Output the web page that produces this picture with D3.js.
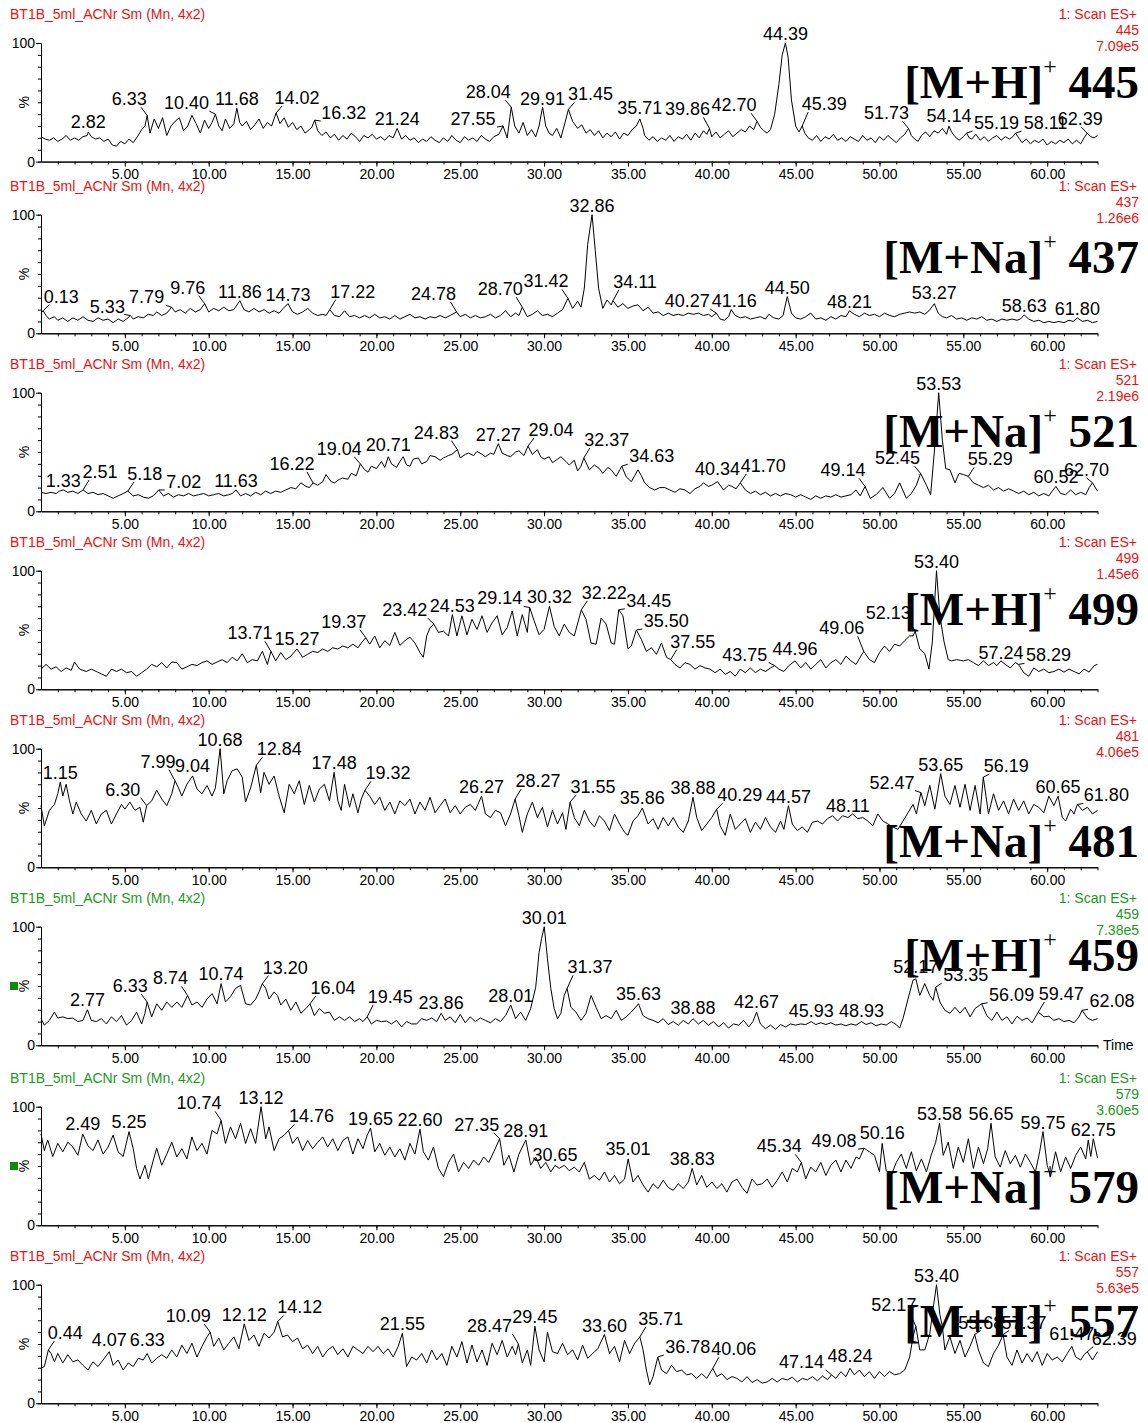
<!DOCTYPE html>
<html><head><meta charset="utf-8">
<script src="https://cdn.jsdelivr.net/npm/d3@7"></script>
<style>body{margin:0;background:#fff}svg{display:block}</style>
</head><body>
<svg id="c" width="1148" height="1423"></svg>
<script>
// ---------------- DATA ----------------
const sampleTitle = "BT1B_5ml_ACNr Sm (Mn, 4x2)";
const scanMode = "1: Scan ES+";
const massChannels = ["445","437","521","499","481","459","579","557"];
const maxIntensities = ["7.09e5","1.26e6","2.19e6","1.45e6","4.06e5","7.38e5","3.60e5","5.63e5"];
const ionTypes = ["M+H","M+Na","M+Na","M+H","M+Na","M+H","M+Na","M+H"];
const xTickLabels = [5,10,15,20,25,30,35,40,45,50,55,60];
const timeDomain = [0,63];

const trace445 = [[0,21],[0.25,19],[0.5,18],[0.75,20],[1,17],[1.25,19],[1.5,22],[1.75,18],[2,20],[2.25,18],[2.5,21],[2.75,22],[2.82,25],[3,21],[3.25,19],[3.5,20],[3.75,17],[4,19],[4.25,14],[4.5,13],[4.75,17],[5,15],[5.25,19],[5.5,16],[5.75,21],[6,27],[6.2,30],[6.33,39],[6.5,24],[6.75,36],[7,28],[7.25,37],[7.5,22],[7.75,30],[8,34],[8.25,37],[8.5,26],[8.75,30],[9,39],[9.25,32],[9.5,24],[9.75,35],[10,28],[10.2,33],[10.4,40],[10.6,30],[10.8,26],[11,36],[11.25,28],[11.5,32],[11.68,45],[11.85,33],[12,30],[12.25,34],[12.5,27],[12.75,31],[13,36],[13.25,28],[13.5,33],[13.75,30],[14.02,41],[14.25,32],[14.5,37],[14.75,29],[15,33],[15.25,27],[15.5,30],[15.75,24],[16,27],[16.15,29],[16.32,35],[16.5,26],[16.75,22],[17,25],[17.25,20],[17.5,23],[17.75,18],[18,22],[18.25,19],[18.5,24],[18.75,21],[19,17],[19.25,22],[19.5,20],[19.75,23],[20,19],[20.25,21],[20.5,18],[20.75,22],[21,20],[21.24,28],[21.5,19],[21.75,22],[22,18],[22.25,20],[22.5,16],[22.75,19],[23,17],[23.25,21],[23.5,18],[23.75,16],[24,20],[24.25,17],[24.5,22],[24.75,18],[25,16],[25.25,21],[25.5,18],[25.75,20],[26,17],[26.25,22],[26.5,19],[26.75,17],[27,21],[27.3,23],[27.55,30],[27.8,20],[28.04,46],[28.25,30],[28.5,24],[28.75,33],[29,22],[29.25,27],[29.5,21],[29.7,30],[29.91,46],[30.1,30],[30.3,24],[30.5,22],[30.75,28],[31,20],[31.25,33],[31.45,44],[31.7,34],[32,28],[32.25,31],[32.5,24],[32.75,27],[33,22],[33.25,26],[33.5,20],[33.75,24],[34,21],[34.25,25],[34.5,19],[34.75,24],[35,22],[35.25,27],[35.5,30],[35.71,36],[35.9,28],[36,22],[36.25,18],[36.5,21],[36.75,17],[37,20],[37.25,18],[37.5,22],[37.75,17],[38,21],[38.25,19],[38.5,23],[38.75,18],[39,24],[39.25,20],[39.5,26],[39.7,23],[39.86,28],[40,21],[40.25,25],[40.5,20],[40.75,23],[41,26],[41.25,21],[41.5,24],[41.75,27],[42,25],[42.25,30],[42.5,27],[42.7,34],[42.9,29],[43.1,26],[43.3,24],[43.5,27],[43.75,40],[44,65],[44.2,90],[44.39,100],[44.55,88],[44.75,52],[45,30],[45.2,25],[45.39,30],[45.55,24],[45.75,20],[46,18],[46.25,22],[46.5,17],[46.75,21],[47,19],[47.25,23],[47.5,18],[47.75,20],[48,17],[48.25,21],[48.5,19],[48.75,17],[49,22],[49.25,18],[49.5,20],[49.75,16],[50,21],[50.25,18],[50.5,22],[50.75,19],[51,16],[51.25,20],[51.5,23],[51.73,28],[51.9,22],[52.1,19],[52.3,17],[52.5,22],[52.75,25],[53,21],[53.25,26],[53.5,24],[53.75,28],[54,23],[54.14,30],[54.3,25],[54.5,21],[54.75,18],[55,21],[55.19,24],[55.35,20],[55.5,19],[55.75,23],[56,18],[56.25,21],[56.5,17],[56.75,20],[57,22],[57.25,18],[57.5,21],[57.75,19],[57.95,21],[58.11,24],[58.3,20],[58.5,16],[58.75,19],[59,15],[59.25,18],[59.5,16],[59.75,19],[60,14],[60.25,17],[60.5,15],[60.75,18],[61,16],[61.25,19],[61.5,15],[61.75,18],[62,15],[62.2,20],[62.39,24],[62.6,21],[62.8,20],[63,22]];
const peaks445 = [2.82,6.33,10.40,11.68,14.02,16.32,21.24,27.55,28.04,29.91,31.45,35.71,39.86,42.70,44.39,45.39,51.73,54.14,55.19,58.11,62.39];

const trace437 = [[0,17],[0.13,19],[0.3,15],[0.5,12],[0.8,14],[1,11],[1.3,13],[1.6,10],[1.9,13],[2.2,11],[2.5,14],[2.8,11],[3.1,10],[3.4,13],[3.7,11],[4,12],[4.3,9],[4.6,12],[4.9,10],[5.1,12],[5.33,15],[5.5,12],[5.8,14],[6.1,13],[6.4,16],[6.7,15],[6.9,18],[7.2,15],[7.5,17],[7.79,22],[8,18],[8.3,20],[8.6,17],[8.9,21],[9.2,18],[9.5,20],[9.76,25],[10,18],[10.3,21],[10.6,19],[10.9,22],[11.2,19],[11.5,20],[11.86,27.5],[12.1,20],[12.4,18],[12.7,21],[13,18],[13.3,20],[13.6,17],[13.9,19],[14.2,17],[14.45,21],[14.73,25],[15,18],[15.3,16],[15.6,18],[15.9,21],[16.2,17],[16.5,15],[16.8,16],[17,15],[17.22,20],[17.5,15],[17.8,14],[18.1,19],[18.4,14],[18.7,15],[19,13],[19.3,15],[19.6,13],[19.9,16],[20.2,13],[20.5,14],[20.8,12],[21.1,15],[21.4,12],[21.7,14],[22,16],[22.3,13],[22.6,14],[22.9,12],[23.2,14],[23.5,13],[23.8,15],[24.1,13],[24.4,15],[24.78,18],[25,14],[25.3,16],[25.6,13],[25.9,15],[26.2,13],[26.5,14],[26.8,16],[27.1,13],[27.4,15],[27.7,19],[28,14],[28.3,17],[28.5,15],[28.7,22],[29,14],[29.3,16],[29.6,19],[29.9,15],[30.2,16],[30.5,14],[30.8,17],[31.1,20],[31.42,29.5],[31.7,21],[32,27],[32.2,22],[32.4,38],[32.6,75],[32.86,100],[33.05,70],[33.25,38],[33.5,21],[33.75,28],[34,24],[34.11,27.5],[34.4,22],[34.7,25],[35,21],[35.3,23],[35.6,24],[35.9,19],[36.2,22],[36.5,17],[36.8,18],[37.1,15],[37.4,17],[37.7,15],[38,16],[38.3,15],[38.6,17],[38.9,16],[39.2,17],[39.5,15],[39.8,16],[40,14],[40.27,17],[40.5,12],[40.75,11],[41,14],[41.16,20],[41.4,15],[41.7,13],[42,14],[42.3,12],[42.6,13],[42.9,14],[43.2,12],[43.4,16],[43.7,13],[44,12],[44.25,15],[44.5,31],[44.75,17],[45,13],[45.3,12],[45.6,14],[45.9,17],[46.2,12],[46.5,13],[46.8,11],[47.1,14],[47.4,12],[47.7,15],[48,14],[48.21,19],[48.5,16],[48.8,14],[49.1,17],[49.4,15],[49.7,16],[50,14],[50.3,17],[50.6,15],[50.9,14],[51.2,16],[51.5,17],[51.8,18],[52.1,17],[52.4,18],[52.7,16],[52.95,19],[53.27,25],[53.5,17],[53.75,14],[54,13],[54.3,15],[54.6,12],[54.9,13],[55.2,11],[55.5,13],[55.8,12],[56.1,14],[56.4,11],[56.7,12],[57,10],[57.3,12],[57.6,11],[57.9,12],[58.2,11],[58.4,12],[58.63,15.5],[58.9,12],[59.2,10],[59.5,11],[59.8,9],[60.1,10],[60.4,9],[60.7,10],[61,9],[61.3,11],[61.55,10],[61.8,13],[62.1,10],[62.4,11],[62.7,9],[63,10]];
const peaks437 = [0.13,5.33,7.79,9.76,11.86,14.73,17.22,24.78,28.70,31.42,32.86,34.11,40.27,41.16,44.50,48.21,53.27,58.63,61.80];

const trace521 = [[0,16],[0.3,15],[0.6,16],[0.9,15],[1.1,17],[1.33,18],[1.6,16],[1.9,17],[2.2,15],[2.51,18],[2.8,15],[3.1,16],[3.4,14],[3.7,15],[4,13],[4.3,11],[4.6,13],[4.9,15],[5.18,17],[5.5,13],[5.8,14],[6.1,12],[6.4,11],[6.7,13],[7.02,18],[7.3,13],[7.6,15],[7.9,12],[8.2,14],[8.5,13],[8.8,15],[9.1,13],[9.4,14],[9.7,15],[10,13],[10.3,14],[10.6,15],[10.9,13],[11.2,14],[11.4,15],[11.63,18],[11.9,13],[12.2,15],[12.5,13],[12.8,16],[13.1,14],[13.4,17],[13.7,15],[14,17],[14.3,16],[14.6,18],[14.9,20],[15.2,19],[15.5,24],[15.8,21],[16,20],[16.22,24],[16.5,22],[16.8,25],[17,31],[17.3,25],[17.5,24],[17.8,27],[18,28],[18.3,27],[18.5,32],[18.8,30],[19.04,40],[19.3,35],[19.5,33],[19.7,38],[20,36],[20.3,42],[20.5,37],[20.71,46],[20.9,40],[21.2,37],[21.4,42],[21.6,46],[21.8,39],[22,38],[22.2,44],[22.5,45],[22.7,40],[23,42],[23.2,47],[23.5,46],[23.8,43],[24,45],[24.3,47],[24.5,48],[24.83,52],[25,45],[25.3,48],[25.5,49],[25.8,47],[26,50.5],[26.3,48],[26.5,46],[26.8,49],[27,48],[27.27,57],[27.5,49],[27.8,47],[28,46],[28.3,50],[28.5,51],[28.8,47],[29.04,55],[29.3,48],[29.6,52],[29.8,46],[30,44],[30.3,46],[30.5,41],[30.8,44],[31,46],[31.3,42],[31.5,39],[31.8,43],[32,34],[32.2,38],[32.37,45],[32.7,35],[33,39],[33.3,36],[33.5,32],[33.8,37],[34,35],[34.3,29.5],[34.63,38],[34.9,29],[35.2,25],[35.4,30],[35.6,35],[35.8,30],[36,24],[36.3,20],[36.6,18],[36.9,20],[37.2,20],[37.5,18],[37.8,16],[38.1,19],[38.4,18],[38.7,15],[39,19],[39.3,21],[39.5,24],[39.8,21],[40,22],[40.34,25],[40.7,18],[41,22],[41.2,21],[41.45,19],[41.7,24],[42,18],[42.3,15],[42.6,17],[42.9,14],[43.2,16],[43.5,13],[43.8,15],[44.1,13],[44.4,15],[44.7,14],[45,12],[45.3,14],[45.6,12],[45.9,10],[46.2,13],[46.5,11],[46.8,13],[47.1,12],[47.4,14],[47.7,12],[48,13],[48.3,14],[48.6,18],[48.85,13],[49.14,21],[49.45,11],[49.8,14],[50.2,20],[50.6,11],[50.9,15],[51.2,24],[51.6,11],[51.9,15],[52.2,22],[52.45,32],[52.8,22],[53.05,14],[53.3,55],[53.53,100],[53.75,60],[53.95,36],[54.2,35],[54.5,24],[54.75,32],[55,31],[55.29,29.5],[55.6,24],[55.9,22],[56.2,20],[56.5,22],[56.8,18],[57.1,20],[57.4,17],[57.7,19],[58,17],[58.3,15],[58.6,17],[58.9,14],[59.2,16],[59.5,13],[59.8,15],[60.1,13],[60.3,17],[60.52,21],[60.8,15],[61.1,14],[61.4,18],[61.7,14],[62,16],[62.3,14],[62.5,20],[62.7,24],[63,17]];
const peaks521 = [1.33,2.51,5.18,7.02,11.63,16.22,19.04,20.71,24.83,27.27,29.04,32.37,34.63,40.34,41.70,49.14,52.45,53.53,55.29,60.52,62.70];

const trace499 = [[0,17],[0.3,21],[0.6,17],[0.9,19],[1.2,15],[1.5,18],[1.8,16],[2,23],[2.3,17],[2.7,15],[3,17],[3.3,15],[3.6,13],[3.9,11],[4.2,17],[4.5,15],[4.8,17],[5.1,14],[5.4,15],[5.7,11],[6,14],[6.3,17],[6.6,21],[6.9,19],[7.2,22.5],[7.5,18],[7.8,23],[8.1,22.5],[8.4,17],[8.7,19],[9,21],[9.3,20],[9.6,22.5],[9.9,24],[10.2,21],[10.5,23],[10.8,25],[11.1,22.5],[11.4,27],[11.7,24],[12,30],[12.3,22.5],[12.6,25],[12.9,24],[13.2,32],[13.5,21],[13.71,32],[14,24],[14.3,31],[14.6,25],[14.9,28],[15.27,34],[15.6,27],[15.9,29.5],[16.2,32],[16.5,31],[16.8,34],[17.1,32],[17.4,35],[17.7,34],[18,36.5],[18.3,35],[18.6,38],[18.9,35],[19.15,40],[19.37,43.5],[19.6,38],[19.9,45],[20.2,35],[20.5,41],[20.8,37],[21.1,48],[21.4,37],[21.7,41],[22,44],[22.3,39],[22.6,31],[22.8,27],[23,45],[23.2,52],[23.42,55],[23.7,48],[24,49],[24.3,45],[24.53,63],[24.8,45],[25.1,62],[25.4,46],[25.7,59],[26,50.5],[26.3,62],[26.6,48],[26.9,56],[27.2,62],[27.5,46],[27.8,52],[28.1,66],[28.4,45],[28.7,63],[29,48],[29.14,69],[29.4,58],[29.7,46],[30,50.5],[30.32,70],[30.6,53],[30.9,45],[31.2,55],[31.5,48],[31.8,45],[32.22,67],[32.5,59],[32.8,39],[33.1,38],[33.4,60],[33.7,55],[34,39],[34.2,38],[34.45,67],[34.7,62],[35,34],[35.2,36.5],[35.5,50],[35.8,42],[36.1,32],[36.4,35],[36.7,29.5],[37,39],[37.3,27],[37.55,25],[37.8,21],[38.1,18],[38.4,22.5],[38.7,21],[39,17],[39.3,20],[39.6,18],[39.9,17],[40.2,14],[40.5,17],[40.8,12.6],[41.1,15],[41.4,11],[41.7,17],[42,14],[42.3,18],[42.6,14],[42.9,17],[43.2,15],[43.5,18],[43.75,20],[44,17],[44.3,15],[44.6,20],[44.96,24],[45.3,18],[45.6,22.5],[45.9,17],[46.2,21],[46.5,25],[46.8,18],[47.1,22.5],[47.4,25],[47.7,21],[48,28],[48.3,24],[48.6,21],[49.06,32],[49.4,25],[49.7,22.5],[50,31],[50.3,36.5],[50.6,32],[50.9,38],[51.2,36.5],[51.5,41],[51.8,45],[52,45],[52.13,49],[52.4,34],[52.7,30],[52.95,17],[53.15,40],[53.4,100],[53.6,62],[53.85,40],[54.1,25],[54.3,24],[54.6,25],[55,24],[55.3,25],[55.6,22.5],[55.9,20],[56.2,24],[56.5,20],[56.8,22.5],[57,20],[57.24,24],[57.5,21],[57.8,18],[58.1,22.5],[58.29,21],[58.6,14],[58.9,11],[59.2,18],[59.5,15],[59.8,17],[60.1,14],[60.4,15],[60.7,17],[61,14.5],[61.3,17],[61.6,15],[61.9,13],[62.2,17],[62.5,14.5],[62.8,20],[63,21]];
const peaks499 = [13.71,15.27,19.37,23.42,24.53,29.14,30.32,32.22,34.45,35.50,37.55,43.75,44.96,49.06,52.13,53.40,57.24,58.29];

const trace481 = [[0,52],[0.2,35],[0.5,48],[0.8,53],[1,62],[1.15,72],[1.3,60],[1.5,70],[1.7,56],[1.9,45],[2.1,55],[2.4,45],[2.7,39],[3,48],[3.3,36.5],[3.6,45],[3.9,48],[4.2,36.5],[4.5,45],[4.8,53],[5,49],[5.3,55],[5.6,48],[5.9,50.6],[6.1,38],[6.3,52],[6.6,56],[6.9,65],[7.2,57.6],[7.5,52],[7.8,62],[7.99,73],[8.2,67],[8.4,60],[8.7,70],[9.04,77],[9.3,66],[9.6,62],[9.9,69],[10.2,60],[10.4,67],[10.68,100],[10.9,62],[11.1,73],[11.4,81.5],[11.7,83],[12,76],[12.2,55],[12.5,67],[12.84,86],[13.1,63],[13.3,80],[13.6,70],[13.9,77],[14.2,60],[14.5,46],[14.8,70],[15.1,62],[15.4,73],[15.7,53],[16,69],[16.3,55],[16.6,66],[16.9,70],[17.2,56],[17.48,80],[17.7,56],[17.9,48],[18.1,70],[18.4,50.6],[18.6,62],[18.9,46],[19.1,57.6],[19.32,65],[19.6,60],[19.9,53],[20.2,59],[20.5,48],[20.8,55],[21.1,45],[21.4,56],[21.7,52],[22,57.6],[22.3,45],[22.6,55],[22.9,48],[23.2,59],[23.5,46],[23.8,52],[24.1,57.6],[24.4,46],[24.7,52],[25,45],[25.3,50.6],[25.6,53],[25.9,48],[26.27,60],[26.5,45],[26.8,42],[27.1,48],[27.4,46],[27.7,35],[28,45],[28.27,57.5],[28.5,43.5],[28.7,29.5],[29,45],[29.3,55],[29.6,42],[29.9,50.6],[30.2,34],[30.5,48],[30.8,36.5],[31.1,46],[31.3,32],[31.55,55],[31.8,42],[32.1,35],[32.4,48],[32.7,39],[33,34],[33.3,43.5],[33.6,39],[33.9,31],[34.2,45],[34.5,36.5],[34.8,29.5],[35,27],[35.3,39],[35.6,43.5],[35.86,50],[36.2,36.5],[36.5,41],[36.8,32],[37.1,42],[37.4,35],[37.7,42],[38,34],[38.3,29.5],[38.6,39],[38.88,59],[39.1,42],[39.4,31],[39.7,36.5],[40,42],[40.29,49],[40.5,35],[40.8,27],[41.1,45],[41.4,32],[41.7,36.5],[42,41],[42.3,29.5],[42.6,38],[42.9,32],[43.2,42],[43.5,34],[43.8,29.5],[44.1,39],[44.3,32],[44.57,52],[44.8,36.5],[45.1,31],[45.4,34],[45.7,29.5],[46,38],[46.3,39],[46.6,36.5],[46.9,41],[47.2,43.5],[47.5,39],[47.8,43.5],[48.11,42],[48.4,45],[48.7,41],[49,42],[49.3,39],[49.6,35],[49.9,45],[50.2,39],[50.5,36.5],[50.8,34],[51.1,32],[51.4,39],[51.7,46],[52,53],[52.2,45],[52.47,63],[52.7,52],[53,69],[53.3,49],[53.65,79],[53.9,60],[54.2,53],[54.5,69],[54.8,50.6],[55.1,70],[55.4,48],[55.7,69],[56,45],[56.19,76],[56.5,45],[56.8,62],[57.1,48],[57.4,56],[57.7,45],[58,57.6],[58.3,48],[58.6,56],[58.9,45],[59.2,53],[59.5,50.6],[59.8,46],[60.1,60],[60.4,52],[60.65,60],[60.9,42],[61.1,39],[61.4,49],[61.6,45],[61.8,53],[62.1,48],[62.4,50.6],[62.7,45],[63,48]];
const peaks481 = [1.15,6.30,7.99,9.04,10.68,12.84,17.48,19.32,26.27,28.27,31.55,35.86,38.88,40.29,44.57,48.11,52.47,53.65,56.19,60.65,61.80];

const trace459 = [[0,22.5],[0.2,17],[0.5,21],[0.8,28],[1,23],[1.3,24],[1.6,22.5],[1.9,23],[2.2,20],[2.5,21],[2.77,30],[3,21],[3.3,20],[3.6,22.5],[3.9,18],[4.2,24],[4.5,20],[4.8,25],[5.1,17],[5.4,21],[5.7,28],[6,18],[6.2,27],[6.33,36.5],[6.6,24],[6.9,35],[7.2,29.5],[7.5,36.5],[7.8,32],[8.1,36.5],[8.4,32],[8.74,42],[9,34],[9.3,36.5],[9.6,32],[9.9,39],[10.2,43.5],[10.5,35],[10.74,52],[11,36.5],[11.3,41],[11.6,48],[11.9,50.5],[12.2,35],[12.5,34],[12.8,39],[13,45],[13.2,52],[13.4,48],[13.6,39],[13.9,45],[14.1,42],[14.3,34],[14.6,39],[14.9,29.5],[15.2,36.5],[15.5,27],[15.8,31],[16.04,35],[16.3,25],[16.6,31],[16.9,27],[17.2,28],[17.5,21],[17.8,24],[18.1,21],[18.4,24],[18.7,20],[19,22.5],[19.2,20],[19.45,24],[19.7,18],[20,21],[20.3,20],[20.6,20.5],[20.9,18],[21.2,21],[21.5,15.5],[21.8,20],[22.1,18],[22.4,18],[22.7,22.5],[23,21],[23.3,23],[23.6,20],[23.86,27],[24.1,21],[24.4,24],[24.7,19],[25,26],[25.3,19],[25.6,24],[25.9,20],[26.2,23],[26.5,21],[26.8,19],[27.1,22.5],[27.4,20],[27.7,25],[28.01,34],[28.3,22.5],[28.6,28],[28.9,21],[29.2,31],[29.5,49],[29.7,78],[29.85,90],[30.01,100],[30.2,73],[30.4,48],[30.6,31],[30.8,22.5],[31,27],[31.2,42],[31.37,48],[31.6,32],[31.9,28],[32.2,21],[32.5,27],[32.8,42],[33.1,32],[33.4,22.5],[33.7,25],[34,22.5],[34.3,29.5],[34.6,21],[34.9,24],[35.2,28],[35.63,35],[35.9,25],[36.2,22.5],[36.5,21],[36.8,19],[37.1,22.5],[37.4,17.5],[37.7,20],[38,17],[38.3,21],[38.6,18],[38.88,22.5],[39.2,18],[39.5,21],[39.8,17],[40.1,20],[40.4,15.5],[40.7,19],[41,14.5],[41.3,18],[41.6,17],[41.9,21],[42.2,15.5],[42.45,20],[42.67,28],[42.9,18],[43.2,14],[43.5,17],[43.8,13.5],[44.1,17.5],[44.4,15.5],[44.7,18],[45,17],[45.3,18],[45.6,17.5],[45.93,20],[46.2,17.5],[46.5,19],[46.8,17.5],[47.1,19],[47.4,17],[47.7,18],[48,16.5],[48.3,18],[48.6,17],[48.93,20],[49.2,17.5],[49.5,19],[49.8,16.5],[50.1,18],[50.4,17],[50.7,20],[51,17.5],[51.2,14.5],[51.4,22.5],[51.7,39],[52,55],[52.17,56],[52.4,42],[52.7,52],[53,42],[53.2,38],[53.35,49],[53.6,36.5],[53.9,29.5],[54.2,27],[54.5,32],[54.8,27],[55.1,32],[55.4,24],[55.7,31],[56.09,35],[56.4,25],[56.7,21],[57,28],[57.3,21],[57.6,24],[57.9,18],[58.2,24.5],[58.5,21],[58.8,23],[59.1,19],[59.47,28],[59.8,24],[60.1,24.5],[60.4,21],[60.7,22.5],[61,20],[61.3,21],[61.6,19],[61.9,24],[62.08,29.5],[62.4,23],[62.7,21],[63,22.5]];
const peaks459 = [2.77,6.33,8.74,10.74,13.20,16.04,19.45,23.86,28.01,30.01,31.37,35.63,38.88,42.67,45.93,48.93,52.17,53.35,56.09,59.47,62.08];

const trace579 = [[0,77],[0.2,63],[0.4,72],[0.7,58],[1,69],[1.3,62],[1.6,70],[1.9,66],[2.2,59],[2.49,77],[2.8,67],[3.1,63],[3.4,72],[3.7,60],[4,66],[4.3,76],[4.6,62],[4.9,58],[5.25,79],[5.5,64.6],[5.7,48],[5.9,39],[6.2,50.6],[6.4,39],[6.7,55],[6.9,65],[7.2,50.6],[7.5,60],[7.8,70],[8.1,57.6],[8.4,64.6],[8.7,56],[9,74.5],[9.3,63],[9.6,69],[9.9,60],[10.2,80],[10.5,77],[10.74,88.5],[11,69],[11.3,83],[11.6,73],[11.9,86],[12.2,69],[12.5,81.5],[12.8,69],[13.12,100],[13.4,73],[13.6,83],[13.9,63],[14.2,73],[14.5,76],[14.76,80],[15,69],[15.3,74.5],[15.6,63],[15.9,71.5],[16.2,64.6],[16.5,70],[16.8,74.5],[17.1,66],[17.4,73],[17.7,63],[18,71.5],[18.3,74.5],[18.6,60],[18.9,73],[19.2,64.6],[19.45,76],[19.65,82],[19.9,62],[20.2,69],[20.5,59],[20.8,66],[21.1,57.6],[21.4,64.6],[21.7,55],[22,69],[22.3,60],[22.6,81],[22.8,62],[23.1,55],[23.4,66],[23.7,48],[24,41],[24.3,53],[24.6,60],[24.9,45],[25.2,53],[25.5,48],[25.8,55],[26.1,50.6],[26.4,57.6],[26.7,53],[27,62],[27.35,73],[27.6,50.6],[27.9,59],[28.2,45],[28.5,60],[28.91,72],[29.2,50.6],[29.5,57.6],[29.8,48],[30.1,53],[30.4,45],[30.65,50.5],[30.9,48],[31.2,50.6],[31.5,46],[31.8,49],[32.1,45],[32.4,53],[32.7,39],[33,42],[33.3,38],[33.6,45],[33.9,36.5],[34.2,42],[34.5,35],[34.8,39],[35.01,56],[35.3,36.5],[35.6,42],[35.9,34],[36.2,28],[36.5,35],[36.8,31],[37.1,38],[37.4,32],[37.7,29.5],[38,35],[38.3,31],[38.6,36.5],[38.83,48],[39.1,34],[39.4,42],[39.7,32],[40,36.5],[40.3,31],[40.6,35],[40.9,28],[41.2,36.5],[41.5,39],[41.8,32],[42.1,27],[42.4,39],[42.7,34],[43,35],[43.3,39],[43.6,32],[43.9,38],[44.2,45],[44.5,36.5],[44.8,48],[45.1,45],[45.34,53],[45.6,39],[45.9,49],[46.2,45],[46.5,53],[46.8,42],[47.1,50.6],[47.4,55],[47.7,45],[48,55],[48.3,48],[48.6,57.6],[48.8,56],[49.08,65],[49.4,62],[49.7,59],[50,45],[50.16,69],[50.4,46],[50.7,42],[51,53],[51.3,60],[51.6,48],[51.9,62],[52.2,46],[52.5,56],[52.8,45],[53.1,60],[53.35,70],[53.58,86],[53.8,59],[54.1,70],[54.4,48],[54.7,66],[55,53],[55.3,73],[55.6,48],[55.9,66],[56.2,52],[56.45,64.6],[56.65,86],[56.9,57.6],[57.2,49],[57.5,63],[57.8,52],[58.1,59],[58.4,49],[58.7,60],[59,53],[59.3,45],[59.55,62],[59.75,79],[60,50.6],[60.2,41],[60.5,62],[60.8,45],[61.1,57.6],[61.4,48],[61.7,59],[62,66],[62.3,56],[62.45,72],[62.6,58],[62.75,73],[63,57]];
const peaks579 = [2.49,5.25,10.74,13.12,14.76,19.65,22.60,27.35,28.91,30.65,35.01,38.83,45.34,49.08,50.16,53.58,56.65,59.75,62.75];

const trace557 = [[0,29.5],[0.2,31],[0.44,45],[0.6,42],[0.8,35],[1,42],[1.3,34],[1.6,41],[1.9,35],[2.2,36.5],[2.5,32],[2.8,28],[3.1,35],[3.4,31],[3.7,36.5],[4.07,43.5],[4.3,32],[4.6,36.5],[4.9,28],[5.2,34],[5.5,31],[5.8,38],[6.1,36.5],[6.33,42],[6.6,34],[6.9,38],[7.2,41],[7.5,38],[7.8,45],[8.1,39],[8.4,49],[8.7,42],[9,50.6],[9.3,39],[9.6,48],[9.9,56],[10.09,60],[10.3,48],[10.6,55],[10.9,45],[11.2,50.6],[11.5,56],[11.8,46],[12.12,67],[12.4,53],[12.7,57.6],[13,48],[13.3,59],[13.6,55],[13.9,60],[14.12,69],[14.4,56],[14.7,57.6],[15,52],[15.3,55],[15.6,46],[15.9,49],[16.2,42],[16.5,48],[16.8,39],[17.1,45],[17.4,48],[17.7,41],[18,46],[18.3,39],[18.6,48],[18.9,45],[19.2,42],[19.5,48],[19.8,43.5],[20.1,48],[20.4,42],[20.7,46],[21,39],[21.3,48],[21.55,59],[21.8,31],[22.1,39],[22.4,36.5],[22.7,42],[23,34],[23.3,45],[23.6,36.5],[23.9,42],[24.2,32],[24.5,48],[24.8,39],[25.1,52],[25.4,34],[25.7,49],[26,35],[26.3,45],[26.6,32],[26.9,50.6],[27.2,41],[27.5,53],[27.8,39],[28.1,48],[28.3,41],[28.47,50],[28.7,34],[29,45],[29.2,32],[29.45,65],[29.7,45],[30,35],[30.2,60],[30.5,43.5],[30.8,42],[31.1,50.6],[31.4,41],[31.7,45],[32,36.5],[32.3,49],[32.6,38],[32.9,42],[33.2,46],[33.6,58],[33.9,42],[34.2,48],[34.5,35],[34.8,53],[35.1,42],[35.4,50.6],[35.71,56],[35.9,45],[36.1,28],[36.3,15.5],[36.5,22.5],[36.78,39],[37,28],[37.3,25],[37.6,32],[37.9,26.7],[38.2,28],[38.5,24],[38.8,25],[39.1,21],[39.4,25],[39.7,21],[40.06,29.5],[40.3,22.5],[40.6,25],[40.9,20],[41.2,22.5],[41.5,21],[41.8,18],[42.1,22.5],[42.4,17.5],[42.7,20],[43,17],[43.3,18],[43.6,21],[43.9,18],[44.2,21],[44.5,19.7],[44.8,22],[45.1,18],[45.4,21],[45.7,19.7],[46,22.5],[46.3,19],[46.6,23],[46.9,20],[47.14,24],[47.4,21],[47.7,26.7],[48,22.5],[48.24,29.5],[48.5,24],[48.8,28],[49.1,22.5],[49.4,26.7],[49.7,21],[50,26.7],[50.3,22.5],[50.6,26.7],[50.9,24],[51.2,25],[51.5,28],[51.8,39],[52,56],[52.17,65],[52.4,45],[52.7,45],[53,59],[53.2,80],[53.4,100],[53.6,75],[53.75,64.6],[53.9,45],[54.2,56],[54.5,42],[54.8,53],[55.1,39],[55.4,48],[55.68,58],[55.9,45],[56.2,34],[56.5,31],[56.8,42],[57.1,49],[57.37,58],[57.6,39],[57.9,32],[58.2,45],[58.5,34],[58.8,42],[59.1,35],[59.4,43.5],[59.7,32],[60,42],[60.3,36.5],[60.6,39],[60.9,35],[61.2,42],[61.47,48],[61.7,39],[62,36.5],[62.2,41],[62.39,43.5],[62.7,36.5],[63,43.5]];
const peaks557 = [0.44,4.07,6.33,10.09,12.12,14.12,21.55,28.47,29.45,33.60,35.71,36.78,40.06,47.14,48.24,52.17,53.40,55.68,57.37,61.47,62.39];

// ---------------- LAYOUT / STYLE ----------------
const layout = {
  y100: [43, 214.7, 392.7, 570.7, 748.7, 926.7, 1106.7, 1284.7],
  plotH: 118.6,
  xRange: [41, 1097.5],
  bigLabelDy: [55, 58, 54, 54, 108, 44, 96, 52],
  headColor: ["#f01010","#f01010","#f01010","#f01010","#f01010","#1a9a1a","#1a9a1a","#f01010"],
  marker: [false,false,false,false,false,true,true,false],
  timeLabel: [false,false,false,false,false,true,false,false]
};
// label nudges [dx, dy] in px relative to the default (centred on apex)
const nudges = [
  [[0,-1],[-18,-7],[-29,-2],[0,0],[21,-6],[29,2],[0,0],[-30,2],[-23,-6],[0,1],[22,-6],[0,-2],[-22,-10],[-23,-7],[0,0],[22,-13],[-22,-6],[0,-1],[30,-1],[30,-1],[-7,-5]],
  [[18,-5],[-23,0],[-25,-1],[-17,-7],[0,0],[0,0],[23,-9],[-23,-9],[-22,-9],[-22,-8],[0,0],[22,-10],[-29,-3],[3,0],[0,0],[0,0],[0,-2],[0,0],[0,0]],
  [[0,0],[17,-9],[17,-8],[25,1],[0,0],[-21,-10],[-21,-6],[0,-3],[-21,-8],[0,0],[23,-7],[23,-9],[30,-1],[0,-4],[23,-8],[-22,-7],[-23,-6],[0,0],[22,-8],[0,0],[-6,-4]],
  [[-21,-9],[0,-1],[-22,-7],[-29,-5],[0,0],[-30,0],[0,0],[23,-8],[30,0],[30,0],[22,-9],[-30,-2],[0,-3],[-22,-14],[-27,-9],[0,0],[0,1],[30,0]],
  [[0,0],[-24,-7],[-17,-10],[0,-1],[0,0],[23,-7],[0,0],[23,-8],[0,0],[23,-9],[23,-6],[0,-1],[0,0],[23,-5],[0,0],[0,-2],[-29,-1],[0,0],[23,-2],[0,0],[29,0]],
  [[0,-1],[-17,-7],[-17,-8],[0,-1],[23,-7],[23,-7],[23,-11],[0,-1],[0,0],[0,0],[23,-12],[0,-1],[0,-2],[0,-1],[0,-2],[0,-2],[0,-3],[30,-3],[30,0],[23,-9],[30,0]],
  [[0,-1],[0,-1],[-22,-8],[0,0],[23,-5],[0,0],[0,0],[-23,-5],[0,0],[0,-1],[0,-1],[0,0],[-22,-7],[-30,2],[0,-1],[0,0],[0,0],[0,0],[0,0]],
  [[17,-8],[0,-3],[0,-4],[-22,-7],[0,0],[22,-5],[0,0],[-29,-9],[0,0],[0,0],[21,-9],[30,-1],[21,-10],[-30,-4],[0,-3],[-22,-12],[0,0],[6,-3],[21,-3],[0,-3],[27,-4]]
];

const traces = [trace445, trace437, trace521, trace499, trace481, trace459, trace579, trace557];
const peaks = [peaks445, peaks437, peaks521, peaks499, peaks481, peaks459, peaks579, peaks557];

// ---------------- DRAW ----------------
const svg = d3.select("#c");
svg.append("rect").attr("width",1148).attr("height",1423).attr("fill","#fff");
const SANS = "'Liberation Sans', Arial, Helvetica, sans-serif";
const SERIF = "'Liberation Serif', 'Times New Roman', serif";
const x = d3.scaleLinear().domain(timeDomain).range(layout.xRange);

function valueAt(tr, t){
  const f = tr.find(d => Math.abs(d[0]-t) < 1e-6);
  if (f) return f[1];
  const i = d3.bisector(d=>d[0]).left(tr, t);
  const a = tr[Math.max(0,i-1)], b = tr[Math.min(tr.length-1,i)];
  return a[1] + (b[1]-a[1]) * ((t-a[0])/((b[0]-a[0])||1));
}

traces.forEach((tr, i) => {
  const top = layout.y100[i], bot = top + layout.plotH;
  const y = d3.scaleLinear().domain([0,100]).range([bot, top]);
  const g = svg.append("g");
  // white panel background (covers the lowest strip of the panel above)
  g.append("rect").attr("x",0).attr("y", top-35.3).attr("width",1148).attr("height", layout.plotH+60).attr("fill","#fff");

  const col = layout.headColor[i];
  g.append("text").attr("x",10).attr("y",top-24).attr("fill",col)
    .style("font-family",SANS).style("font-size","14px").text(sampleTitle);
  g.append("text").attr("x",1137).attr("y",top-24).attr("fill",col).attr("text-anchor","end")
    .style("font-family",SANS).style("font-size","14px").text(scanMode);
  g.append("text").attr("x",1139).attr("y",top-8).attr("fill",col).attr("text-anchor","end")
    .style("font-family",SANS).style("font-size","14px").text(massChannels[i]);
  g.append("text").attr("x",1139).attr("y",top+8).attr("fill",col).attr("text-anchor","end")
    .style("font-family",SANS).style("font-size","14px").text(maxIntensities[i]);

  // axes
  const xa = g.append("g").attr("transform",`translate(0,${bot})`)
    .call(d3.axisBottom(x).tickValues(d3.range(1,64,1)).tickSize(3).tickSizeOuter(0).tickFormat(""));
  const xb = g.append("g").attr("transform",`translate(0,${bot})`)
    .call(d3.axisBottom(x).tickValues(xTickLabels).tickSize(5).tickSizeOuter(0).tickPadding(4).tickFormat(d3.format(".2f")));
  const ya = g.append("g").attr("transform",`translate(${layout.xRange[0]},0)`)
    .call(d3.axisLeft(y).tickValues(d3.range(0,101,10)).tickSize(3).tickSizeOuter(0).tickFormat(""));
  const yb = g.append("g").attr("transform",`translate(${layout.xRange[0]},0)`)
    .call(d3.axisLeft(y).tickValues([0,100]).tickSize(5).tickSizeOuter(0).tickPadding(1).tickFormat(d3.format("d")));
  [xa,xb,ya,yb].forEach(a => {
    a.selectAll("path,line").attr("stroke","#000").attr("stroke-width",1);
    a.selectAll("text").attr("fill","#000").style("font-family",SANS).style("font-size","14px");
  });
  xb.selectAll("text").attr("dy","0.62em");
  g.append("text").attr("transform",`translate(29,${y(50)}) rotate(-90)`).attr("text-anchor","middle")
    .style("font-family",SANS).style("font-size","14px").attr("fill","#000").text("%");
  if (layout.marker[i]) {
    g.append("rect").attr("x",10).attr("y",y(50)-4).attr("width",8).attr("height",8).attr("fill","#0a8a0a");
  }
  if (layout.timeLabel[i]) {
    g.append("text").attr("x",1103).attr("y",bot+5).style("font-family",SANS).style("font-size","14px").attr("fill","#000").text("Time");
  }

  // trace
  g.append("path").datum(tr)
    .attr("d", d3.line().x(d=>x(d[0])).y(d=>y(d[1])))
    .attr("fill","none").attr("stroke","#000").attr("stroke-width",1);

  // peak labels
  peaks[i].forEach((t,k) => {
    const v = valueAt(tr, t);
    const ax = x(t), ay = y(v);
    const [dx,dy] = (nudges[i][k] || [0,0]);
    const tx = ax + dx, ty = ay - 3 + dy;
    if (Math.abs(dx) > 4 || dy < -5) {
      const ex = ax + Math.sign(dx)*Math.min(Math.abs(dx),6);
      g.append("line").attr("x1",ax).attr("y1",ay).attr("x2",ex).attr("y2",ty+2)
        .attr("stroke","#000").attr("stroke-width",1);
    }
    g.append("text").attr("x",tx).attr("y",ty).attr("text-anchor","middle")
      .style("font-family",SANS).style("font-size","18px").attr("fill","#000")
      .text(t.toFixed(2));
  });

  // compound label
  const bl = g.append("text").attr("x",1139).attr("y",top+layout.bigLabelDy[i]).attr("text-anchor","end")
    .style("font-family",SERIF).attr("fill","#000");
  bl.append("tspan").style("font-size","47px").style("font-weight","bold").text("[" + ionTypes[i] + "]");
  bl.append("tspan").style("font-size","24px").attr("dy",-24).text("+");
  bl.append("tspan").style("font-size","47px").style("font-weight","bold").attr("dy",24).text(" " + massChannels[i]);
});
</script>
</body></html>
